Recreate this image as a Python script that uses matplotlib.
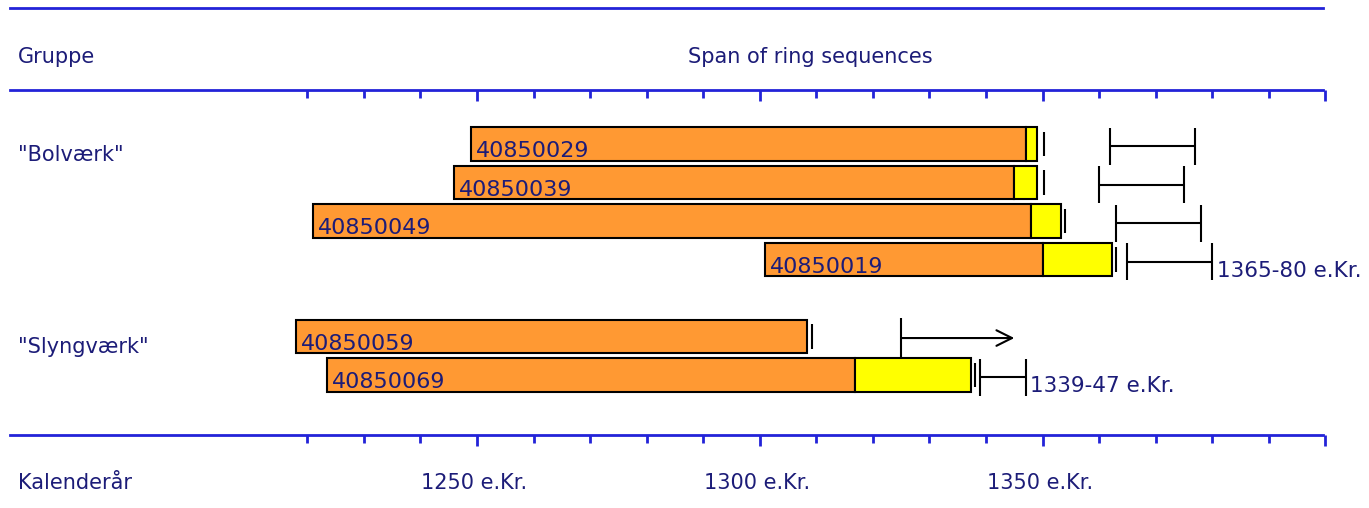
import numpy as np
from matplotlib import pyplot as plt

plt.rcParams['font.family'] = ['DejaVu Sans']

# prøver og årringsserier
samples = ['40850029', '40850039', '40850049', '40850019', '40850059', '40850069']
rows = [0, 1, 2, 3, 5, 6]
start_years = [1249, 1246, 1221, 1301, 1218, 1223.5]
heartwood_end = [1347, 1345, 1348, 1350, 1308.3, 1316.8]
sapwood_end = [1349, 1349, 1353.3, 1362.3, 1308.3, 1337.3]
end_marks = [1350.2, 1350.2, 1354, 1363, 1309.2, 1338]

# fældningsintervaller
fell_rows = [0, 1, 2, 3, 6]
fell_from = [1362, 1360, 1363, 1365, 1339]
fell_to = [1377, 1375, 1378, 1380, 1347]
fell_labels = ['', '', '', '1365-80 e.Kr.', '1339-47 e.Kr.']

# "efter" pil for 40850059
arrow_row = 5
arrow_from = 1325
arrow_to = 1345

groups = ['"Bolværk"', '"Slyngværk"']
group_rows = [0.29, 5.27]

year_ticks = np.arange(1220, 1401, 10)
major_years = [1250, 1300, 1350, 1400]
year_labels = [1250, 1300, 1350]

BLUE = '#2323d8'
NAVY = '#1c1c78'
ORANGE = '#ff9933'
YELLOW = '#ffff00'

# skala: 1250 ved 477 px, 5.656 px pr. år, række 0 ved 144 px, 38.5 px pr. række
W, H = 1369, 508
px_per_year = 5.656
px_per_row = 38.5
x_left = 1250 - 477 / px_per_year
x_right = 1250 + (W - 477) / px_per_year
y_top = -144 / px_per_row
y_bottom = (H - 144) / px_per_row

fig = plt.figure(figsize=(W / 100, H / 100), dpi=100)
ax = fig.add_axes([0, 0, 1, 1])
ax.set_xlim(x_left, x_right)
ax.set_ylim(y_bottom, y_top)
ax.axis('off')

bar_h = 0.88

# kerneved (orange) og splintved (gul)
ax.barh(rows, np.array(heartwood_end) - np.array(start_years), left=start_years,
        height=bar_h, color=ORANGE, edgecolor='black', linewidth=1.5)
sap = np.array(sapwood_end) - np.array(heartwood_end)
has_sap = sap > 0
ax.barh(np.array(rows)[has_sap], sap[has_sap], left=np.array(heartwood_end)[has_sap],
        height=bar_h, color=YELLOW, edgecolor='black', linewidth=1.5)

for s, r, x0 in zip(samples, rows, start_years):
    ax.annotate(s, (x0, r + 0.35), xytext=(3.5, 0), textcoords='offset points',
                fontsize=16, color=NAVY, va='baseline', ha='left')

# slutmærker
ax.vlines(end_marks, np.array(rows) - 0.32, np.array(rows) + 0.32, color='black', lw=1.5)

# fældningsintervaller
for r, a, b, lab in zip(fell_rows, fell_from, fell_to, fell_labels):
    c = r + 0.06
    ax.hlines(c, a, b, color='black', lw=1.5)
    ax.vlines([a, b], c - 0.48, c + 0.48, color='black', lw=1.5)
    if lab:
        ax.annotate(lab, (b, r + 0.45), xytext=(3.5, 0), textcoords='offset points',
                    fontsize=15.5, color=NAVY, va='baseline', ha='left')

ax.vlines(arrow_from, arrow_row - 0.47, arrow_row + 0.53, color='black', lw=1.5)
ax.annotate('', xy=(arrow_to, arrow_row + 0.04), xytext=(arrow_from, arrow_row + 0.04),
            arrowprops=dict(arrowstyle='->', lw=1.5, color='black', mutation_scale=28,
                            shrinkA=0, shrinkB=0))

# blå linjer og tidsskala
line_rows = [-3.53, -1.40, 7.56]
for i, y in enumerate(line_rows):
    ax.axhline(y, xmin=10 / W, xmax=1323 / W, color=BLUE, lw=2)
    if i > 0:
        for yr in year_ticks:
            tl = 0.29 if yr in major_years else 0.21
            ax.vlines(yr, y, y + tl, color=BLUE, lw=2)

ax.text(18 / W, -2.26, 'Gruppe', transform=ax.get_yaxis_transform(),
        fontsize=15, color=NAVY, va='center', ha='left')
ax.text(1309, -2.26, 'Span of ring sequences', fontsize=15, color=NAVY,
        va='center', ha='center')
ax.text(18 / W, 8.81, 'Kalenderår', transform=ax.get_yaxis_transform(),
        fontsize=15, color=NAVY, va='center', ha='left')
for yr in year_labels:
    ax.text(yr - 0.5, 8.81, '%d e.Kr.' % yr, fontsize=15, color=NAVY,
            va='center', ha='center')

for g, r in zip(groups, group_rows):
    ax.text(18 / W, r, g, transform=ax.get_yaxis_transform(),
            fontsize=15, color=NAVY, va='center', ha='left')

fig.savefig('out.png', dpi=100)
